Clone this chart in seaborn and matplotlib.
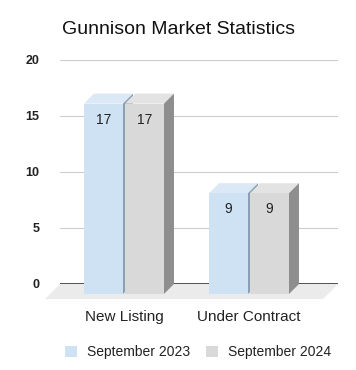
import numpy as np
import pandas as pd
import matplotlib
matplotlib.use("Agg")
import matplotlib.pyplot as plt
import seaborn as sns
from matplotlib.patches import Polygon, Patch
from matplotlib.transforms import ScaledTranslation

# data
categories = ["New Listing", "Under Contract"]
series = ["September 2023", "September 2024"]
sep_2023 = [17, 9]
sep_2024 = [17, 9]

df = pd.DataFrame({
    "category": categories * 2,
    "value": sep_2023 + sep_2024,
    "period": [series[0]] * len(categories) + [series[1]] * len(categories),
})

front_colors = ["#cfe2f3", "#d9d9d9"]
top_colors = ["#dbe8f5", "#e3e3e3"]
side_colors = ["#8b9fb2", "#8e8e8e"]

sns.set_theme(style="white")
plt.rcParams["font.family"] = ["Liberation Sans", "DejaVu Sans"]

fig = plt.figure(figsize=(3.56, 3.70), dpi=100)
ax = fig.add_axes([60 / 356, 86 / 370, 278 / 356, 224 / 370])

sns.barplot(data=df, x="category", y="value", hue="period", palette=front_colors,
            width=0.656, gap=0.05, saturation=1, legend=False, ax=ax, zorder=3,
            edgecolor="none", linewidth=0)

ax.set_xlim(-0.592, 1.632)
ax.set_ylim(0, 20)
ax.set_yticks([0, 5, 10, 15, 20])

# depth of the fake 3d effect, in pixels -> data units
px_x = 278 / (ax.get_xlim()[1] - ax.get_xlim()[0])
px_y = 224 / (ax.get_ylim()[1] - ax.get_ylim()[0])
dx = 10 / px_x
dy = 10 / px_y

# floor
xl0, xl1 = ax.get_xlim()
fdx, fdy = 15 / px_x, 15 / px_y
ax.add_patch(Polygon([(xl0, 0), (xl1, 0), (xl1 - fdx, -fdy), (xl0 - fdx, -fdy)],
                     closed=True, facecolor="#ebebeb", edgecolor="none",
                     zorder=0.3, clip_on=False))
ax.axhline(0, color="#333333", lw=1.2, zorder=1)

for i, cont in enumerate(ax.containers):
    for bar in cont:
        h = bar.get_height()
        x = bar.get_x() - dx
        w = bar.get_width()
        bar.set_x(x)
        bar.set_y(-dy)
        bar.set_clip_on(False)
        bottom, top = -dy, h - dy
        ax.add_patch(Polygon([(x, top), (x + w, top), (x + w + dx, top + dy), (x + dx, top + dy)],
                             closed=True, facecolor=top_colors[i], edgecolor="none",
                             zorder=2.5 + i * 0.1, clip_on=False))
        ax.add_patch(Polygon([(x + w, bottom), (x + w + dx, bottom + dy), (x + w + dx, top + dy), (x + w, top)],
                             closed=True, facecolor=side_colors[i], edgecolor="none",
                             zorder=2.5 + i * 0.1, clip_on=False))
        ax.text(x + w / 2, top - 16 / px_y, f"{int(round(h))}", ha="center", va="center",
                fontsize=10, color="#222222", zorder=4)

ax.grid(axis="y", color="#cccccc", lw=0.8)
ax.set_axisbelow(True)
for s in ax.spines.values():
    s.set_visible(False)

ax.set_xlabel("")
ax.set_ylabel("")
ax.tick_params(axis="x", length=0, pad=19, labelsize=11, labelcolor="#222222")
ax.tick_params(axis="y", length=0, pad=15, labelsize=9, labelcolor="#222222")
for lab in ax.get_yticklabels():
    lab.set_fontweight("bold")
shift = ScaledTranslation(-0.1, 0, fig.dpi_scale_trans)
for lab in ax.get_xticklabels():
    lab.set_transform(lab.get_transform() + shift)

fig.text(0.5, 1 - 30 / 370, "Gunnison Market Statistics", ha="center", va="center",
         fontsize=14, color="#111111")

handles = [Patch(facecolor=c, edgecolor="none") for c in front_colors]
fig.legend(handles, series, loc="center", bbox_to_anchor=(198 / 356, 1 - 352 / 370), ncol=2,
           frameon=False, fontsize=10, handlelength=0.85, handleheight=0.85,
           handletextpad=0.7, columnspacing=1.2, labelcolor="#222222")

fig.savefig("out.png", dpi=100)
